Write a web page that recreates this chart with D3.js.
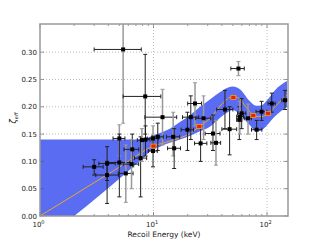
<!DOCTYPE html>
<html>
<head>
<meta charset="utf-8">
<script src="https://cdn.jsdelivr.net/npm/d3@7"></script>
<style>
  body { margin: 0; background: #fff; }
  text { font-family: "DejaVu Sans", sans-serif; }
</style>
</head>
<body>
<div class="chart"></div>
<script>
// zeta_eff vs recoil energy, band + model + measurements

// band (keV, lower, upper)
var bandE  = [1, 2, 3.4, 5, 6.2, 7.6, 8.5, 9.3, 11.4, 13.9, 17.1, 21, 25.7, 31.6, 38.6, 45, 50, 57.6, 70.6, 80, 90, 100, 117, 150];
var bandLo = [-0.053, 0, 0.039, 0.068, 0.085, 0.101, 0.11, 0.118, 0.127, 0.134, 0.14, 0.147, 0.155, 0.164, 0.18, 0.19, 0.194, 0.186, 0.166, 0.155, 0.157, 0.166, 0.182, 0.2];
var bandHi = [0.14, 0.14, 0.14, 0.14, 0.14, 0.14, 0.141, 0.145, 0.152, 0.16, 0.172, 0.185, 0.2, 0.214, 0.227, 0.235, 0.237, 0.232, 0.21, 0.202, 0.203, 0.212, 0.23, 0.247];

// model curve
var modelE = [1, 2, 5, 10, 13.9, 17, 21, 25.3, 31.6, 40, 50, 57, 65, 78, 90, 105, 125, 150];
var modelZ = [0, 0.0385, 0.0895, 0.128, 0.137, 0.143, 0.151, 0.164, 0.179, 0.205, 0.219, 0.215, 0.2, 0.183, 0.182, 0.19, 0.206, 0.222];

// measurements: energy, zeta, e-lo, e-hi, z-lo, z-hi, bar colour
var ptE   = [5.4, 8.45, 12.0, 3.0, 3.9, 3.9, 5.0, 5.0, 5.7, 6.5, 6.4, 7.7, 7.9, 8.5, 9.9, 10.9, 9.9, 14.9, 15.2, 19.9, 23.2, 21.3, 27.6, 26.0, 33.4, 35.5, 42.6, 46.8, 56.0, 57.0, 57.6, 59.8, 68.0, 81.0, 89.5, 110, 144];
var ptZ   = [0.305, 0.219, 0.181, 0.090, 0.096, 0.075, 0.142, 0.098, 0.078, 0.122, 0.095, 0.106, 0.139, 0.140, 0.142, 0.145, 0.119, 0.145, 0.124, 0.158, 0.206, 0.181, 0.179, 0.133, 0.151, 0.134, 0.195, 0.159, 0.270, 0.176, 0.182, 0.188, 0.179, 0.158, 0.191, 0.206, 0.212];
var ptElo = [3.0, 5.4, 8.4, 2.4, 3.3, 3.1, 4.4, 3.9, 4.9, 5.5, 5.4, 6.8, 7.2, 7.8, 8.8, 9.7, 9.0, 13.0, 13.3, 17.5, 20.0, 18.0, 23.5, 23.0, 28.5, 32.0, 36.0, 40.0, 48.0, 54.0, 54.0, 55.0, 63.0, 73.0, 80.0, 102, 135];
var ptEhi = [7.8, 11.6, 16.0, 3.6, 4.6, 4.9, 5.6, 6.2, 6.6, 7.4, 7.4, 8.7, 8.6, 9.3, 11.0, 12.2, 10.8, 17.0, 17.3, 22.5, 26.5, 25.0, 32.0, 29.5, 38.5, 39.0, 50.0, 54.0, 63.0, 60.0, 62.0, 65.0, 73.0, 90.0, 100, 118, 153];
var ptZlo = [0.17, 0.15, 0.13, 0.075, 0.065, 0.023, 0.11, 0.035, 0.025, 0.09, 0.05, 0.035, 0.10, 0.11, 0.12, 0.12, 0.09, 0.11, 0.087, 0.12, 0.165, 0.14, 0.14, 0.10, 0.12, 0.093, 0.16, 0.112, 0.257, 0.14, 0.15, 0.16, 0.15, 0.14, 0.175, 0.19, 0.195];
var ptZhi = [0.36, 0.296, 0.232, 0.103, 0.127, 0.10, 0.167, 0.15, 0.13, 0.15, 0.14, 0.145, 0.16, 0.165, 0.165, 0.17, 0.14, 0.19, 0.16, 0.19, 0.244, 0.22, 0.22, 0.165, 0.185, 0.175, 0.23, 0.20, 0.283, 0.20, 0.21, 0.215, 0.205, 0.175, 0.21, 0.225, 0.23];
var ptCol = ["g","k","g","k","k","k","g","k","g","k","g","k","g","k","g","k","k","g","k","k","g","k","g","k","k","g","k","k","g","k","g","k","g","k","k","k","k"];

// model points (red)
var redE = [10, 25.3, 50.5, 75.7, 102];
var redZ = [0.128, 0.164, 0.217, 0.184, 0.188];

var xTicks = [1, 10, 100];
var yTicks = [0, 0.05, 0.10, 0.15, 0.20, 0.25, 0.30];

var margin = {top: 24, right: 32, bottom: 24, left: 40},
    width = 320 - margin.left - margin.right,
    height = 240 - margin.top - margin.bottom;

var x = d3.scaleLog().domain([1, 153]).range([0, width]);
var y = d3.scaleLinear().domain([0, 0.3516]).range([height, 0]);

var svg = d3.select(".chart").append("svg")
    .attr("width", 320).attr("height", 240)
  .append("g")
    .attr("transform", "translate(" + margin.left + "," + margin.top + ")");

svg.append("clipPath").attr("id", "clip")
  .append("rect").attr("width", width).attr("height", height);

/* grid */
svg.selectAll(".gy").data(yTicks.slice(1)).enter().append("line")
    .attr("x1", 0).attr("x2", width)
    .attr("y1", function(d) { return y(d); }).attr("y2", function(d) { return y(d); })
    .attr("stroke", "#aaa").attr("stroke-width", 0.8).attr("stroke-dasharray", "1,2");
svg.selectAll(".gx").data(xTicks.slice(1)).enter().append("line")
    .attr("y1", 0).attr("y2", height)
    .attr("x1", function(d) { return x(d); }).attr("x2", function(d) { return x(d); })
    .attr("stroke", "#aaa").attr("stroke-width", 0.8).attr("stroke-dasharray", "1,2");

var plot = svg.append("g").attr("clip-path", "url(#clip)");

/* band */
var band = d3.area()
    .x(function(d, i) { return x(bandE[i]); })
    .y0(function(d, i) { return y(bandLo[i]); })
    .y1(function(d, i) { return y(bandHi[i]); })
    .curve(d3.curveMonotoneX);
plot.append("path").datum(bandE)
    .attr("d", band).attr("fill", "#5a6cf2");

/* model line */
var line = d3.line()
    .x(function(d, i) { return x(modelE[i]); })
    .y(function(d, i) { return y(modelZ[i]); })
    .curve(d3.curveMonotoneX);
plot.append("path").datum(modelE)
    .attr("d", line).attr("fill", "none")
    .attr("stroke", "#e8a828").attr("stroke-width", 1);

/* error bars */
var idx = d3.range(ptE.length);
var barCol = function(i) { return ptCol[i] === "g" ? "#999" : "#222"; };
var cap = 2;
var eb = plot.selectAll(".eb").data(idx).enter().append("g")
    .attr("stroke", barCol).attr("stroke-width", 1).attr("fill", "none");
eb.append("line")
    .attr("x1", function(i) { return x(ptE[i]); }).attr("x2", function(i) { return x(ptE[i]); })
    .attr("y1", function(i) { return y(ptZlo[i]); }).attr("y2", function(i) { return y(ptZhi[i]); })
    .attr("stroke-width", function(i) { return ptCol[i] === "g" ? 1.5 : 1; });
eb.append("line")
    .attr("x1", function(i) { return x(ptElo[i]); }).attr("x2", function(i) { return x(ptEhi[i]); })
    .attr("y1", function(i) { return y(ptZ[i]); }).attr("y2", function(i) { return y(ptZ[i]); })
    .attr("stroke", "#222");
eb.append("path")
    .attr("d", function(i) {
      var cx = x(ptE[i]), lo = y(ptZlo[i]), hi = y(ptZhi[i]);
      return "M" + (cx - cap) + "," + lo + "H" + (cx + cap) +
             "M" + (cx - cap) + "," + hi + "H" + (cx + cap);
    });
eb.append("path")
    .attr("stroke", "#222")
    .attr("d", function(i) {
      var cy = y(ptZ[i]), l = x(ptElo[i]), r = x(ptEhi[i]);
      return "M" + l + "," + (cy - cap) + "V" + (cy + cap) +
             "M" + r + "," + (cy - cap) + "V" + (cy + cap);
    });

/* points */
plot.selectAll(".pt").data(idx).enter().append("rect")
    .attr("x", function(i) { return x(ptE[i]) - 2; })
    .attr("y", function(i) { return y(ptZ[i]) - 2; })
    .attr("width", 4).attr("height", 4).attr("fill", "#000");

plot.selectAll(".red").data(d3.range(redE.length)).enter().append("rect")
    .attr("x", function(i) { return x(redE[i]) - 2.5; })
    .attr("y", function(i) { return y(redZ[i]) - 2; })
    .attr("width", 5).attr("height", 4)
    .attr("fill", "#e82010").attr("stroke", "#f0a020").attr("stroke-width", 0.8);

/* frame and ticks */
var minor = [];
[1, 10, 100].forEach(function(d) {
  for (var k = 2; k <= 9; k++) if (d * k <= 153) minor.push(d * k);
});
var tk = svg.append("g").attr("stroke", "#555").attr("stroke-width", 0.6);
xTicks.concat(minor).forEach(function(d) {
  var len = xTicks.indexOf(d) >= 0 ? 4 : 2;
  tk.append("line").attr("x1", x(d)).attr("x2", x(d)).attr("y1", height).attr("y2", height - len);
  tk.append("line").attr("x1", x(d)).attr("x2", x(d)).attr("y1", 0).attr("y2", len);
});
yTicks.forEach(function(d) {
  tk.append("line").attr("x1", 0).attr("x2", 4).attr("y1", y(d)).attr("y2", y(d));
  tk.append("line").attr("x1", width).attr("x2", width - 4).attr("y1", y(d)).attr("y2", y(d));
});
svg.append("rect").attr("width", width).attr("height", height)
    .attr("fill", "none").attr("stroke", "#999").attr("stroke-width", 1.5);

/* tick labels */
svg.selectAll(".yl").data(yTicks).enter().append("text")
    .attr("x", -3).attr("y", function(d) { return y(d) + 2.5; })
    .attr("text-anchor", "end").attr("font-size", 7).attr("fill", "#222")
    .text(function(d) { return d3.format(".2f")(d); });

var xl = svg.selectAll(".xl").data(xTicks).enter().append("text")
    .attr("x", function(d) { return x(d) - 1.5; }).attr("y", height + 11)
    .attr("text-anchor", "middle").attr("font-size", 7).attr("fill", "#222");
xl.append("tspan").text("10");
xl.append("tspan").attr("dy", -3).attr("font-size", 5)
    .text(function(d) { return Math.round(Math.log10(d)); });

svg.append("text")
    .attr("x", width / 2).attr("y", height + 21)
    .attr("text-anchor", "middle").attr("font-size", 7.5).attr("fill", "#222")
    .text("Recoil Energy (keV)");

var yt = svg.append("text")
    .attr("transform", "translate(-24," + (height / 2 - 2) + ") rotate(-90)")
    .attr("text-anchor", "middle").attr("font-size", 8).attr("fill", "#222")
    .attr("font-style", "italic");
yt.append("tspan").text("ζ");
yt.append("tspan").attr("dy", 2).attr("font-size", 5).text("eff");
</script>
</body>
</html>
